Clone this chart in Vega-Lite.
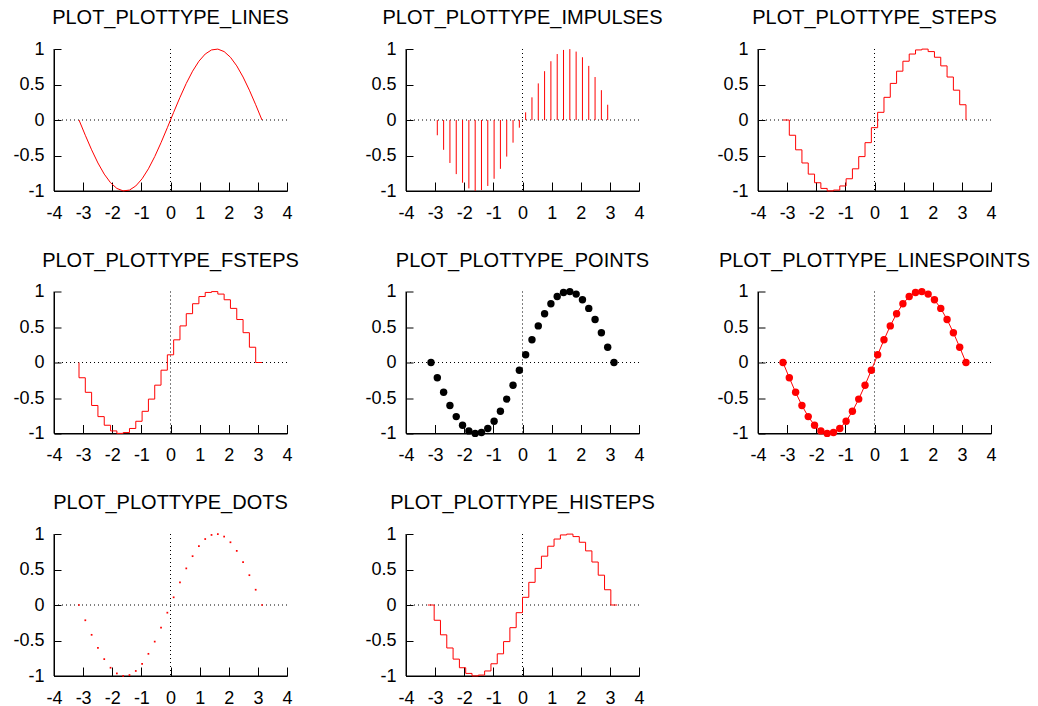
{
  "$schema": "https://vega.github.io/schema/vega-lite/v6.json",
  "background": "white",
  "padding": {"left": 12, "top": 8, "right": 5, "bottom": 0},
  "datasets": {
    "sin": [
      {"x": -3.1416, "y": 0}, {"x": -2.9249, "y": -0.215}, {"x": -2.7083, "y": -0.4199}, {"x": -2.4916, "y": -0.6052},
      {"x": -2.275, "y": -0.7622}, {"x": -2.0583, "y": -0.8836}, {"x": -1.8417, "y": -0.9636}, {"x": -1.625, "y": -0.9985},
      {"x": -1.4084, "y": -0.9868}, {"x": -1.1917, "y": -0.929}, {"x": -0.975, "y": -0.8277}, {"x": -0.7584, "y": -0.6877},
      {"x": -0.5417, "y": -0.5156}, {"x": -0.3251, "y": -0.3193}, {"x": -0.1083, "y": -0.1081}, {"x": 0.1083, "y": 0.1081},
      {"x": 0.3251, "y": 0.3193}, {"x": 0.5417, "y": 0.5156}, {"x": 0.7584, "y": 0.6877}, {"x": 0.975, "y": 0.8277},
      {"x": 1.1917, "y": 0.929}, {"x": 1.4084, "y": 0.9868}, {"x": 1.625, "y": 0.9985}, {"x": 1.8417, "y": 0.9636},
      {"x": 2.0583, "y": 0.8836}, {"x": 2.275, "y": 0.7622}, {"x": 2.4916, "y": 0.6052}, {"x": 2.7083, "y": 0.4199},
      {"x": 2.9249, "y": 0.215}, {"x": 3.1416, "y": 0}
    ],
    "hist": [
      {"x": -3.25, "y": 0},
      {"x": -3.1416, "y": 0}, {"x": -2.9249, "y": -0.215}, {"x": -2.7083, "y": -0.4199}, {"x": -2.4916, "y": -0.6052},
      {"x": -2.275, "y": -0.7622}, {"x": -2.0583, "y": -0.8836}, {"x": -1.8417, "y": -0.9636}, {"x": -1.625, "y": -0.9985},
      {"x": -1.4084, "y": -0.9868}, {"x": -1.1917, "y": -0.929}, {"x": -0.975, "y": -0.8277}, {"x": -0.7584, "y": -0.6877},
      {"x": -0.5417, "y": -0.5156}, {"x": -0.3251, "y": -0.3193}, {"x": -0.1083, "y": -0.1081}, {"x": 0.1083, "y": 0.1081},
      {"x": 0.3251, "y": 0.3193}, {"x": 0.5417, "y": 0.5156}, {"x": 0.7584, "y": 0.6877}, {"x": 0.975, "y": 0.8277},
      {"x": 1.1917, "y": 0.929}, {"x": 1.4084, "y": 0.9868}, {"x": 1.625, "y": 0.9985}, {"x": 1.8417, "y": 0.9636},
      {"x": 2.0583, "y": 0.8836}, {"x": 2.275, "y": 0.7622}, {"x": 2.4916, "y": 0.6052}, {"x": 2.7083, "y": 0.4199},
      {"x": 2.9249, "y": 0.215}, {"x": 3.1416, "y": 0},
      {"x": 3.25, "y": 0}
    ],
    "frame": [{"x0": 0, "y0": 0, "xl": -4, "yb": -1}]
  },
  "columns": 3,
  "bounds": "flush",
  "align": "all",
  "spacing": {"row": 100.5, "column": 119},
  "concat": [
    {
      "title": "PLOT_PLOTTYPE_LINES", "width": 233, "height": 142,
      "layer": [
        {"data": {"name": "frame"}, "mark": {"type": "rule", "color": "black", "strokeWidth": 1, "strokeDash": [1, 3]}, "encoding": {"x": {"field": "x0", "type": "quantitative", "title": null, "scale": {"domain": [-4, 4], "nice": false, "zero": false}}}},
        {"data": {"name": "frame"}, "mark": {"type": "rule", "color": "black", "strokeWidth": 1, "strokeDash": [1, 3]}, "encoding": {"y": {"field": "y0", "type": "quantitative", "title": null, "scale": {"domain": [-1, 1], "nice": false}}}},
        {"data": {"name": "frame"}, "mark": {"type": "rule", "color": "black", "strokeWidth": 1}, "encoding": {"x": {"field": "xl", "type": "quantitative"}}},
        {"data": {"name": "frame"}, "mark": {"type": "rule", "color": "black", "strokeWidth": 1}, "encoding": {"y": {"field": "yb", "type": "quantitative"}}},
        {"data": {"name": "sin"}, "mark": {"type": "line", "color": "#ff0000", "strokeWidth": 1},
          "encoding": {"x": {"field": "x", "type": "quantitative"}, "y": {"field": "y", "type": "quantitative"}}}
      ]
    },
    {
      "title": "PLOT_PLOTTYPE_IMPULSES", "width": 233, "height": 142,
      "layer": [
        {"data": {"name": "frame"}, "mark": {"type": "rule", "color": "black", "strokeWidth": 1, "strokeDash": [1, 3]}, "encoding": {"x": {"field": "x0", "type": "quantitative", "title": null, "scale": {"domain": [-4, 4], "nice": false, "zero": false}}}},
        {"data": {"name": "frame"}, "mark": {"type": "rule", "color": "black", "strokeWidth": 1, "strokeDash": [1, 3]}, "encoding": {"y": {"field": "y0", "type": "quantitative", "title": null, "scale": {"domain": [-1, 1], "nice": false}}}},
        {"data": {"name": "frame"}, "mark": {"type": "rule", "color": "black", "strokeWidth": 1}, "encoding": {"x": {"field": "xl", "type": "quantitative"}}},
        {"data": {"name": "frame"}, "mark": {"type": "rule", "color": "black", "strokeWidth": 1}, "encoding": {"y": {"field": "yb", "type": "quantitative"}}},
        {"data": {"name": "sin"}, "mark": {"type": "rule", "color": "#ff0000", "strokeWidth": 1},
          "encoding": {"x": {"field": "x", "type": "quantitative"}, "y": {"field": "y", "type": "quantitative"}, "y2": {"datum": 0}}}
      ]
    },
    {
      "title": "PLOT_PLOTTYPE_STEPS", "width": 233, "height": 142,
      "layer": [
        {"data": {"name": "frame"}, "mark": {"type": "rule", "color": "black", "strokeWidth": 1, "strokeDash": [1, 3]}, "encoding": {"x": {"field": "x0", "type": "quantitative", "title": null, "scale": {"domain": [-4, 4], "nice": false, "zero": false}}}},
        {"data": {"name": "frame"}, "mark": {"type": "rule", "color": "black", "strokeWidth": 1, "strokeDash": [1, 3]}, "encoding": {"y": {"field": "y0", "type": "quantitative", "title": null, "scale": {"domain": [-1, 1], "nice": false}}}},
        {"data": {"name": "frame"}, "mark": {"type": "rule", "color": "black", "strokeWidth": 1}, "encoding": {"x": {"field": "xl", "type": "quantitative"}}},
        {"data": {"name": "frame"}, "mark": {"type": "rule", "color": "black", "strokeWidth": 1}, "encoding": {"y": {"field": "yb", "type": "quantitative"}}},
        {"data": {"name": "sin"}, "mark": {"type": "line", "color": "#ff0000", "strokeWidth": 1, "interpolate": "step-after"},
          "encoding": {"x": {"field": "x", "type": "quantitative"}, "y": {"field": "y", "type": "quantitative"}}}
      ]
    },
    {
      "title": "PLOT_PLOTTYPE_FSTEPS", "width": 233, "height": 142,
      "layer": [
        {"data": {"name": "frame"}, "mark": {"type": "rule", "color": "black", "strokeWidth": 1, "strokeDash": [1, 3]}, "encoding": {"x": {"field": "x0", "type": "quantitative", "title": null, "scale": {"domain": [-4, 4], "nice": false, "zero": false}}}},
        {"data": {"name": "frame"}, "mark": {"type": "rule", "color": "black", "strokeWidth": 1, "strokeDash": [1, 3]}, "encoding": {"y": {"field": "y0", "type": "quantitative", "title": null, "scale": {"domain": [-1, 1], "nice": false}}}},
        {"data": {"name": "frame"}, "mark": {"type": "rule", "color": "black", "strokeWidth": 1}, "encoding": {"x": {"field": "xl", "type": "quantitative"}}},
        {"data": {"name": "frame"}, "mark": {"type": "rule", "color": "black", "strokeWidth": 1}, "encoding": {"y": {"field": "yb", "type": "quantitative"}}},
        {"data": {"name": "sin"}, "mark": {"type": "line", "color": "#ff0000", "strokeWidth": 1, "interpolate": "step-before"},
          "encoding": {"x": {"field": "x", "type": "quantitative"}, "y": {"field": "y", "type": "quantitative"}}}
      ]
    },
    {
      "title": "PLOT_PLOTTYPE_POINTS", "width": 233, "height": 142,
      "layer": [
        {"data": {"name": "frame"}, "mark": {"type": "rule", "color": "black", "strokeWidth": 1, "strokeDash": [1, 3]}, "encoding": {"x": {"field": "x0", "type": "quantitative", "title": null, "scale": {"domain": [-4, 4], "nice": false, "zero": false}}}},
        {"data": {"name": "frame"}, "mark": {"type": "rule", "color": "black", "strokeWidth": 1, "strokeDash": [1, 3]}, "encoding": {"y": {"field": "y0", "type": "quantitative", "title": null, "scale": {"domain": [-1, 1], "nice": false}}}},
        {"data": {"name": "frame"}, "mark": {"type": "rule", "color": "black", "strokeWidth": 1}, "encoding": {"x": {"field": "xl", "type": "quantitative"}}},
        {"data": {"name": "frame"}, "mark": {"type": "rule", "color": "black", "strokeWidth": 1}, "encoding": {"y": {"field": "yb", "type": "quantitative"}}},
        {"data": {"name": "sin"}, "mark": {"type": "circle", "color": "black", "size": 55, "opacity": 1},
          "encoding": {"x": {"field": "x", "type": "quantitative"}, "y": {"field": "y", "type": "quantitative"}}}
      ]
    },
    {
      "title": "PLOT_PLOTTYPE_LINESPOINTS", "width": 233, "height": 142,
      "layer": [
        {"data": {"name": "frame"}, "mark": {"type": "rule", "color": "black", "strokeWidth": 1, "strokeDash": [1, 3]}, "encoding": {"x": {"field": "x0", "type": "quantitative", "title": null, "scale": {"domain": [-4, 4], "nice": false, "zero": false}}}},
        {"data": {"name": "frame"}, "mark": {"type": "rule", "color": "black", "strokeWidth": 1, "strokeDash": [1, 3]}, "encoding": {"y": {"field": "y0", "type": "quantitative", "title": null, "scale": {"domain": [-1, 1], "nice": false}}}},
        {"data": {"name": "frame"}, "mark": {"type": "rule", "color": "black", "strokeWidth": 1}, "encoding": {"x": {"field": "xl", "type": "quantitative"}}},
        {"data": {"name": "frame"}, "mark": {"type": "rule", "color": "black", "strokeWidth": 1}, "encoding": {"y": {"field": "yb", "type": "quantitative"}}},
        {"data": {"name": "sin"}, "mark": {"type": "line", "color": "#ff0000", "strokeWidth": 1},
          "encoding": {"x": {"field": "x", "type": "quantitative"}, "y": {"field": "y", "type": "quantitative"}}},
        {"data": {"name": "sin"}, "mark": {"type": "circle", "color": "#ff0000", "size": 55, "opacity": 1},
          "encoding": {"x": {"field": "x", "type": "quantitative"}, "y": {"field": "y", "type": "quantitative"}}}
      ]
    },
    {
      "title": "PLOT_PLOTTYPE_DOTS", "width": 233, "height": 142,
      "layer": [
        {"data": {"name": "frame"}, "mark": {"type": "rule", "color": "black", "strokeWidth": 1, "strokeDash": [1, 3]}, "encoding": {"x": {"field": "x0", "type": "quantitative", "title": null, "scale": {"domain": [-4, 4], "nice": false, "zero": false}}}},
        {"data": {"name": "frame"}, "mark": {"type": "rule", "color": "black", "strokeWidth": 1, "strokeDash": [1, 3]}, "encoding": {"y": {"field": "y0", "type": "quantitative", "title": null, "scale": {"domain": [-1, 1], "nice": false}}}},
        {"data": {"name": "frame"}, "mark": {"type": "rule", "color": "black", "strokeWidth": 1}, "encoding": {"x": {"field": "xl", "type": "quantitative"}}},
        {"data": {"name": "frame"}, "mark": {"type": "rule", "color": "black", "strokeWidth": 1}, "encoding": {"y": {"field": "yb", "type": "quantitative"}}},
        {"data": {"name": "sin"}, "mark": {"type": "square", "color": "#ff0000", "size": 3, "opacity": 1},
          "encoding": {"x": {"field": "x", "type": "quantitative"}, "y": {"field": "y", "type": "quantitative"}}}
      ]
    },
    {
      "title": "PLOT_PLOTTYPE_HISTEPS", "width": 233, "height": 142,
      "layer": [
        {"data": {"name": "frame"}, "mark": {"type": "rule", "color": "black", "strokeWidth": 1, "strokeDash": [1, 3]}, "encoding": {"x": {"field": "x0", "type": "quantitative", "title": null, "scale": {"domain": [-4, 4], "nice": false, "zero": false}}}},
        {"data": {"name": "frame"}, "mark": {"type": "rule", "color": "black", "strokeWidth": 1, "strokeDash": [1, 3]}, "encoding": {"y": {"field": "y0", "type": "quantitative", "title": null, "scale": {"domain": [-1, 1], "nice": false}}}},
        {"data": {"name": "frame"}, "mark": {"type": "rule", "color": "black", "strokeWidth": 1}, "encoding": {"x": {"field": "xl", "type": "quantitative"}}},
        {"data": {"name": "frame"}, "mark": {"type": "rule", "color": "black", "strokeWidth": 1}, "encoding": {"y": {"field": "yb", "type": "quantitative"}}},
        {"data": {"name": "hist"}, "mark": {"type": "line", "color": "#ff0000", "strokeWidth": 1, "interpolate": "step"},
          "encoding": {"x": {"field": "x", "type": "quantitative"}, "y": {"field": "y", "type": "quantitative"}}}
      ]
    }
  ],
  "config": {
    "view": {"stroke": null},
    "font": "Liberation Sans",
    "axis": {
      "grid": false,
      "domain": true,
      "domainColor": "black",
      "domainWidth": 1,
      "ticks": true,
      "tickColor": "black",
      "tickWidth": 1,
      "tickOpacity": 1,
      "labelFont": "Liberation Sans",
      "labelFontSize": 18,
      "labelColor": "black",
      "labelFlush": false,
      "labelOverlap": false,
      "labelExpr": "'' + datum.value",
      "title": null
    },
    "axisX": {"tickCount": 8, "tickSize": -9, "labelPadding": 22},
    "axisY": {"tickCount": 4, "tickSize": -7, "labelPadding": 17},
    "title": {
      "font": "Liberation Sans",
      "fontSize": 20,
      "fontWeight": "normal",
      "color": "black",
      "anchor": "middle",
      "frame": "group",
      "baseline": "alphabetic",
      "offset": 12
    }
  }
}
